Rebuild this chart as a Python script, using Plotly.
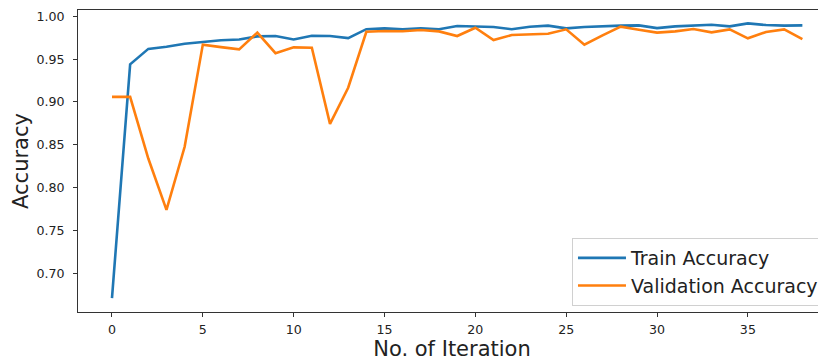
import plotly.graph_objects as go

iterations = list(range(39))
train_acc = [0.671, 0.944, 0.962, 0.9645, 0.968, 0.970, 0.972, 0.973, 0.9766, 0.977,
             0.973, 0.9774, 0.977, 0.9746, 0.985, 0.986, 0.9848, 0.986, 0.985, 0.9887,
             0.9883, 0.9875, 0.985, 0.9879, 0.9891, 0.986, 0.9875, 0.9887, 0.9891, 0.9894,
             0.9863, 0.9883, 0.9891, 0.9902, 0.9883, 0.9918, 0.9898, 0.9891, 0.9894]
val_acc = [0.906, 0.906, 0.834, 0.774, 0.8477, 0.967, 0.9641, 0.9614, 0.981, 0.957,
           0.9638, 0.9634, 0.8745, 0.9166, 0.982, 0.9828, 0.9826, 0.984, 0.9824, 0.977,
           0.9867, 0.9723, 0.9782, 0.9786, 0.9797, 0.9848, 0.9668, 0.9778, 0.9879, 0.9844,
           0.981, 0.9824, 0.9852, 0.9813, 0.9848, 0.9743, 0.9817, 0.9848, 0.9735]
x_ticks = [0, 5, 10, 15, 20, 25, 30, 35]
y_ticks = [0.70, 0.75, 0.80, 0.85, 0.90, 0.95, 1.00]

FONT = "DejaVu Sans"

fig = go.Figure()
fig.add_trace(go.Scatter(x=iterations, y=train_acc, mode="lines", name="Train Accuracy",
                         line=dict(color="#1f77b4", width=2.6)))
fig.add_trace(go.Scatter(x=iterations, y=val_acc, mode="lines", name="Validation Accuracy",
                         line=dict(color="#ff7f0e", width=2.6)))

fig.update_layout(
    width=818, height=355,
    margin=dict(l=70, r=0, t=2, b=51, autoexpand=False),
    paper_bgcolor="white", plot_bgcolor="white",
    font=dict(family=FONT, color="#222222"),
    showlegend=True,
    legend=dict(x=0.6604, y=0.245, xanchor="left", yanchor="top",
                bgcolor="white", bordercolor="#d0d0d0", borderwidth=1,
                font=dict(family=FONT, size=19, color="#222222"),
                itemwidth=48, tracegroupgap=0),
    xaxis=dict(range=[-1.87, 39.3], tickvals=x_ticks, ticks="outside", ticklen=4,
               tickcolor="#333333", showline=True, linecolor="#333333", linewidth=1,
               mirror=True, showgrid=False, zeroline=False, ticklabelstandoff=2,
               tickfont=dict(family=FONT, size=12.6, color="#222222"),
               title=dict(text="No. of Iteration", font=dict(family=FONT, size=21, color="#222222"),
                          standoff=0)),
    yaxis=dict(range=[0.6548, 1.0074], tickvals=y_ticks, tickformat=".2f", ticks="outside",
               ticklen=4, tickcolor="#333333", showline=True, linecolor="#333333", linewidth=1,
               showgrid=False, zeroline=False, ticklabelstandoff=6,
               tickfont=dict(family=FONT, size=12.6, color="#222222"),
               title=dict(text="Accuracy", font=dict(family=FONT, size=21, color="#222222"),
                          standoff=2)),
)

fig.write_html("out.html")
